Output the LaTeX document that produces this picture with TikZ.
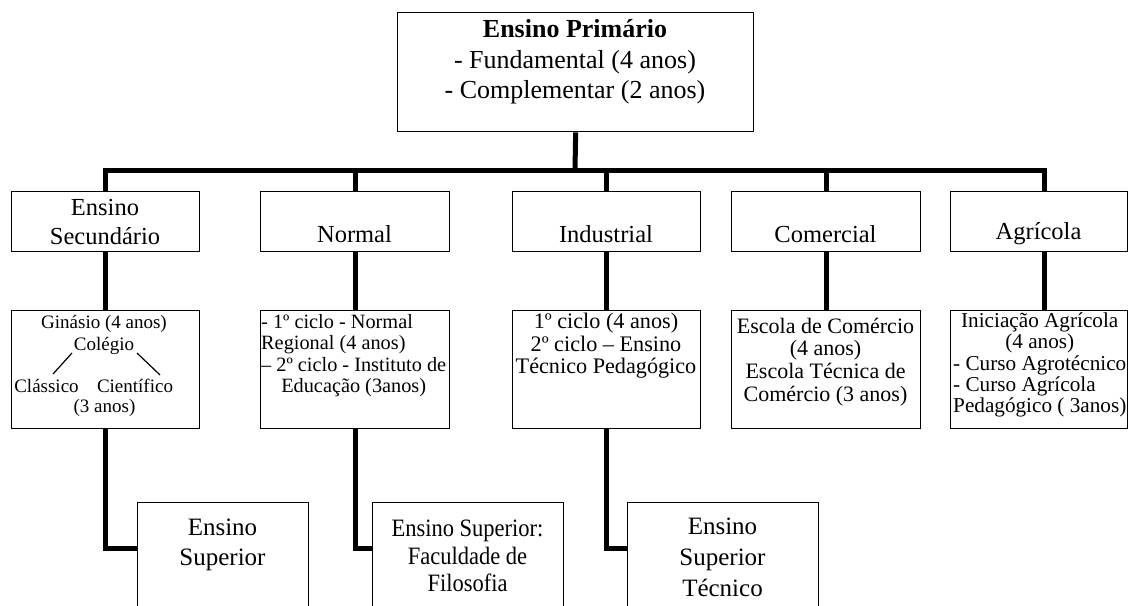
\documentclass[tikz,border=0pt]{standalone}
\usepackage{fontspec}
\setmainfont{Liberation Serif}
\newfontfamily\condfont[FakeStretch=0.9]{Liberation Serif}
\usetikzlibrary{calc}
\begin{document}
\begin{tikzpicture}[x=1pt,y=-1pt,
  box/.style={draw, line width=1.3pt, inner sep=0pt, anchor=north west},
  conn/.style={line width=5pt},
  lbl/.style={inner sep=0pt, align=center},
  thinline/.style={line width=1.2pt}]
\useasboundingbox (0,0) rectangle (1129,605);
\clip (0,0) rectangle (1129,605);
% boxes
\node[box, minimum width=356pt, minimum height=119pt] (top) at (397,12) {};
\node[box, minimum width=188pt, minimum height=60pt] (sec1) at (11,191) {};
\node[box, minimum width=189pt, minimum height=60pt] (nor1) at (260,191) {};
\node[box, minimum width=188pt, minimum height=60pt] (ind1) at (512,191) {};
\node[box, minimum width=189pt, minimum height=60pt] (com1) at (731,191) {};
\node[box, minimum width=177pt, minimum height=60pt] (agr1) at (950,191) {};
\node[box, minimum width=188pt, minimum height=118pt] (sec2) at (11,310) {};
\node[box, minimum width=189pt, minimum height=118pt] (nor2) at (260,310) {};
\node[box, minimum width=188pt, minimum height=118pt] (ind2) at (512,310) {};
\node[box, minimum width=189pt, minimum height=118pt] (com2) at (731,310) {};
\node[box, minimum width=177pt, minimum height=118pt] (agr2) at (950,310) {};
\node[box, minimum width=171pt, minimum height=140pt] (sup1) at (137,502) {};
\node[box, minimum width=191pt, minimum height=140pt] (sup2) at (372,502) {};
\node[box, minimum width=191pt, minimum height=140pt] (sup3) at (627,502) {};
% connectors
\coordinate (bar) at (575,170);
\draw[conn] (top.south) -- (bar);
\draw[conn] (sec1.north) |- (bar);
\draw[conn] (nor1.north) |- (bar);
\draw[conn] (ind1.north) |- (bar);
\draw[conn] (com1.north) |- (bar);
\draw[conn] ($(agr1.north)+(5.5,0)$) |- (bar);
\draw[conn] (sec1.south) -- (sec2.north);
\draw[conn] (nor1.south) -- (nor2.north);
\draw[conn] (ind1.south) -- (ind2.north);
\draw[conn] (com1.south) -- (com2.north);
\draw[conn] ($(agr1.south)+(5.5,0)$) -- ($(agr2.north)+(5.5,0)$);
\draw[conn] (sec2.south) |- ($(sup1.north west)+(0,46)$);
\draw[conn] (nor2.south) |- ($(sup2.north west)+(0,46)$);
\draw[conn] (ind2.south) |- ($(sup3.north west)+(0,46)$);
% texts
\node[lbl, font=\fontsize{26}{30.5}\selectfont] (ttop) at (575,62) {\textbf{Ensino Primário}\\- Fundamental (4 anos)\\- Complementar (2 anos)};
\node[lbl, font=\fontsize{24.5}{29}\selectfont] (tsec1) at (105,222.5) {Ensino\\Secundário};
\node[lbl, font=\fontsize{24.5}{29}\selectfont] (tnor1) at (354.5,234) {Normal};
\node[lbl, font=\fontsize{24.5}{29}\selectfont] (tind1) at (606,234) {Industrial};
\node[lbl, font=\fontsize{24.5}{29}\selectfont] (tcom1) at (825.5,234) {Comercial};
\node[lbl, font=\fontsize{24.5}{29}\selectfont] (tagr1) at (1038.5,234) {Agrícola};
% secundario detail
\node[lbl, font=\fontsize{19}{21.5}\selectfont] (tgin) at (104,335) {Ginásio (4 anos)\\Colégio};
\node[lbl, font=\fontsize{19}{21.5}\selectfont] (tcla) at (46.5,385.5) {Clássico};
\node[lbl, font=\fontsize{19}{21.5}\selectfont] (tcie) at (135,385.5) {Científico};
\node[lbl, font=\fontsize{19}{21.5}\selectfont] (t3a) at (104.5,407.5) {(3 anos)};
\coordinate (d1a) at (72,353);
\coordinate (d1b) at (53,374);
\coordinate (d2a) at (137,353);
\coordinate (d2b) at (160,375);
\draw[thinline] (d1a) -- (d1b);
\draw[thinline] (d2a) -- (d2b);
% normal detail
\node[inner sep=0pt, anchor=west, font=\fontsize{20.3}{21.5}\selectfont] (tnor2) at (261,356)
  {\begin{tabular}{@{}l@{}}- 1º ciclo - Normal\\Regional (4 anos)\\– 2º ciclo - Instituto de\\\multicolumn{1}{@{}c@{}}{Educação (3anos)}\end{tabular}};
\node[lbl, font=\fontsize{22.2}{22.5}\selectfont] (tind2) at (606,346) {1º ciclo (4 anos)\\2º ciclo – Ensino\\Técnico Pedagógico};
\node[lbl, font=\fontsize{22}{22.7}\selectfont] (tcom2) at (825.5,362) {Escola de Comércio\\(4 anos)\\Escola Técnica de\\Comércio (3 anos)};
\node[inner sep=0pt, anchor=west, font=\fontsize{21.2}{21.3}\selectfont] (tagr2) at (953,366)
  {\begin{tabular}{@{}l@{}}\multicolumn{1}{@{}c@{}}{Iniciação Agrícola}\\\multicolumn{1}{@{}c@{}}{(4 anos)}\\- Curso Agrotécnico\\- Curso Agrícola\\Pedagógico ( 3anos)\end{tabular}};
% bottom
\node[lbl, font=\fontsize{25}{30}\selectfont] (tsup1) at (222.5,545) {Ensino\\Superior};
\node[lbl, font=\condfont\fontsize{25}{27.5}\selectfont] (tsup2) at (467.5,556) {Ensino Superior:\\Faculdade de\\Filosofia};
\node[lbl, font=\fontsize{25}{31}\selectfont] (tsup3) at (722.5,557) {Ensino\\Superior\\Técnico};
\end{tikzpicture}
\end{document}
